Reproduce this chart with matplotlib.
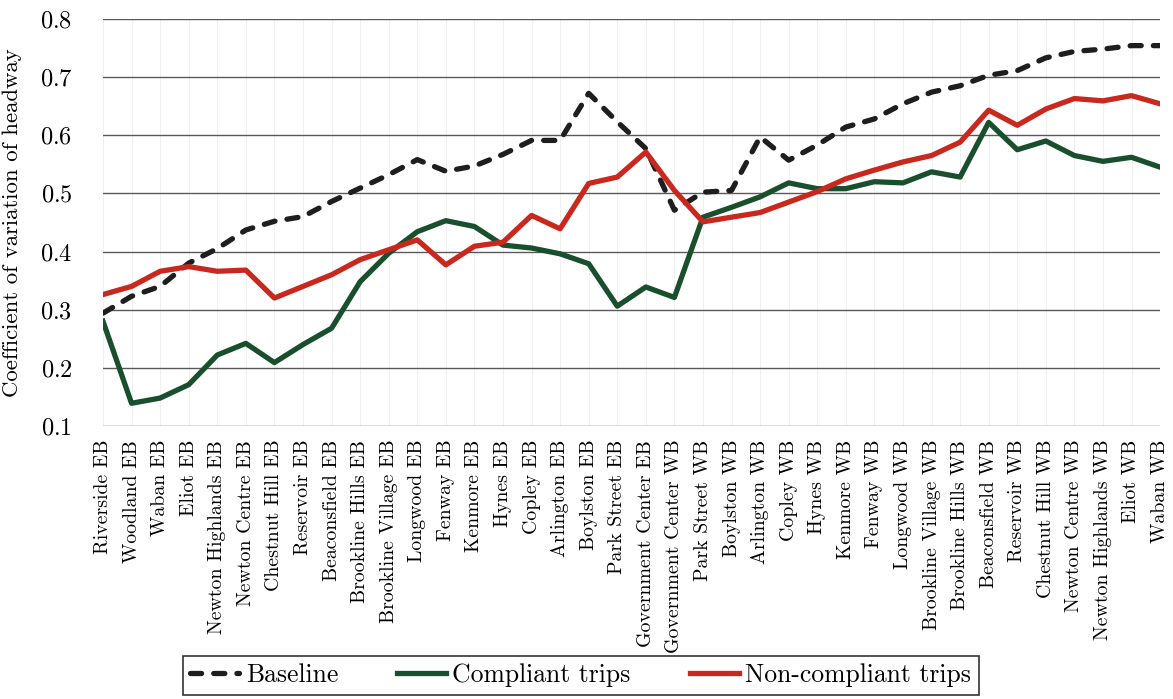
import matplotlib
matplotlib.use("Agg")
import matplotlib.pyplot as plt

stations = [
    "Riverside EB", "Woodland EB", "Waban EB", "Eliot EB", "Newton Highlands EB",
    "Newton Centre EB", "Chestnut Hill EB", "Reservoir EB", "Beaconsfield EB",
    "Brookline Hills EB", "Brookline Village EB", "Longwood EB", "Fenway EB",
    "Kenmore EB", "Hynes EB", "Copley EB", "Arlington EB", "Boylston EB",
    "Park Street EB", "Government Center EB", "Government Center WB",
    "Park Street WB", "Boylston WB", "Arlington WB", "Copley WB", "Hynes WB",
    "Kenmore WB", "Fenway WB", "Longwood WB", "Brookline Village WB",
    "Brookline Hills WB", "Beaconsfield WB", "Reservoir WB", "Chestnut Hill WB",
    "Newton Centre WB", "Newton Highlands WB", "Eliot WB", "Waban WB",
]

baseline = [0.294, 0.323, 0.340, 0.380, 0.405, 0.437, 0.452, 0.460, 0.486, 0.509,
            0.532, 0.558, 0.538, 0.547, 0.567, 0.591, 0.591, 0.672, 0.623, 0.577,
            0.471, 0.502, 0.505, 0.597, 0.557, 0.583, 0.614, 0.628, 0.654, 0.674,
            0.685, 0.703, 0.711, 0.733, 0.744, 0.748, 0.754, 0.754]

compliant = [0.280, 0.139, 0.148, 0.171, 0.222, 0.242, 0.209, 0.240, 0.268, 0.348,
             0.397, 0.434, 0.453, 0.443, 0.411, 0.406, 0.396, 0.379, 0.306, 0.339,
             0.321, 0.459, 0.476, 0.494, 0.518, 0.508, 0.508, 0.520, 0.518, 0.537,
             0.528, 0.622, 0.575, 0.590, 0.565, 0.555, 0.562, 0.545]

noncompliant = [0.326, 0.340, 0.366, 0.374, 0.366, 0.368, 0.320, 0.340, 0.360, 0.386,
                0.403, 0.420, 0.377, 0.409, 0.416, 0.462, 0.439, 0.517, 0.528, 0.571,
                0.505, 0.451, 0.459, 0.467, 0.485, 0.503, 0.525, 0.540, 0.554, 0.565,
                0.588, 0.643, 0.617, 0.645, 0.663, 0.659, 0.668, 0.654]

plt.rcParams['font.family'] = 'serif'
plt.rcParams['font.serif'] = ['cmr10', 'DejaVu Serif']
plt.rcParams['mathtext.fontset'] = 'cm'
plt.rcParams['axes.formatter.use_mathtext'] = True

fig = plt.figure(figsize=(11.73, 6.99), dpi=100)
ax = fig.add_axes([0.0878, 0.3906, 0.9012, 0.5824])

x = list(range(len(stations)))
ax.plot(x, baseline, color='#1e1e1e', lw=3.8, ls=(0, (2.1, 2.3)),
        dash_capstyle='round', label='Baseline')
ax.plot(x, compliant, color='#1a4f2e', lw=3.8, label='Compliant trips')
ax.plot(x, noncompliant, color='#c8281e', lw=3.8, label='Non-compliant trips')

ax.set_xlim(0, len(stations) - 1)
ax.set_ylim(0.1, 0.8)
ax.set_yticks([0.1, 0.2, 0.3, 0.4, 0.5, 0.6, 0.7, 0.8])
ax.set_xticks(x)
ax.set_xticklabels(stations, rotation=90, fontsize=14.3)
ax.tick_params(axis='y', labelsize=17.5, length=0, pad=22)
ax.tick_params(axis='x', length=0, pad=10)
ax.set_ylabel('Coefficient of variation of headway', fontsize=16.4)
ax.yaxis.set_label_coords(-0.0766, 0.5)

ax.grid(axis='y', color='#5a5a5a', lw=1.0)
ax.grid(axis='x', color='#eeeeee', lw=0.6)
ax.set_axisbelow(True)
for s in ax.spines.values():
    s.set_visible(False)

leg = fig.legend(loc='upper center', bbox_to_anchor=(0.495, 1 - 643 / 699), ncol=3,
                 fontsize=18.5, frameon=True, fancybox=False, edgecolor='black',
                 handlelength=1.9, handletextpad=0.25, columnspacing=2.3,
                 borderpad=0.3)
leg.get_frame().set_linewidth(1.2)

fig.savefig('out.png', dpi=100)
